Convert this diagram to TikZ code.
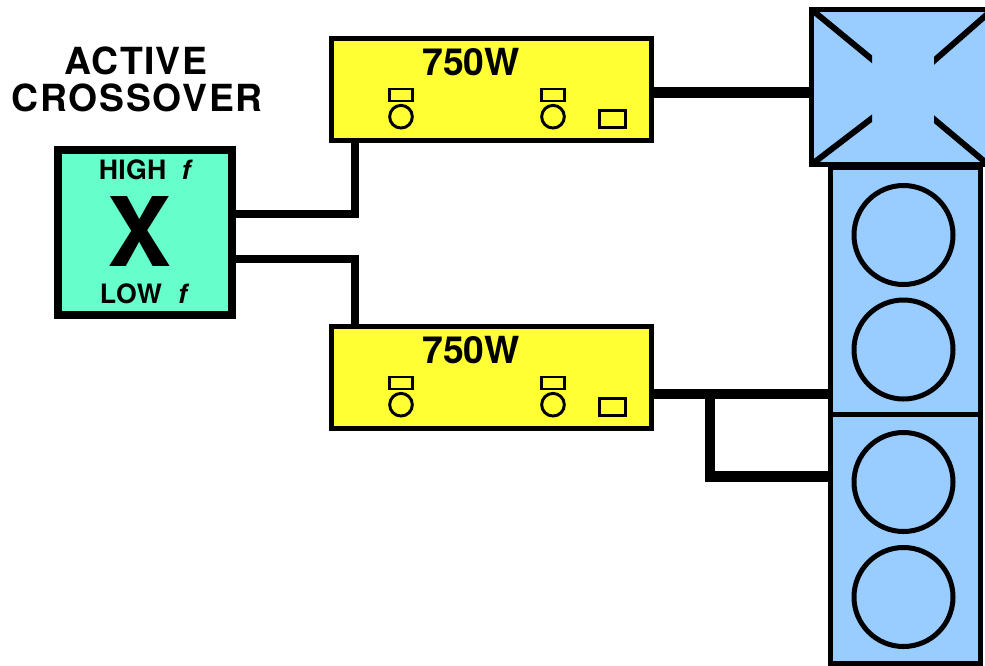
\documentclass[tikz,border=0pt]{standalone}
\usepackage{fontspec}
\setmainfont{TeX Gyre Heros}
\definecolor{xovergreen}{HTML}{66FFCC}
\definecolor{ampyellow}{HTML}{FFFF33}
\definecolor{cabblue}{HTML}{99CCFF}
\tikzset{
  box/.style={draw, inner sep=0pt, outer sep=0pt, line width=3.75pt},
  ampbox/.style={box, fill=ampyellow, minimum width=240pt, minimum height=76.5pt},
  cabbox/.style={box, fill=cabblue, minimum width=112.5pt},
  cone/.style={draw, circle, inner sep=0pt, line width=3.75pt, minimum size=74.25pt},
  knobcap/.style={draw, inner sep=0pt, line width=2.2pt, minimum width=17.8pt, minimum height=9pt},
  knobdial/.style={draw, circle, inner sep=0pt, line width=2.2pt, minimum size=17pt},
  hornline/.style={line width=4.5pt},
  wire/.style={line width=6pt},
  cable/.style={line width=7.9pt},
  label/.style={inner sep=0pt, font=\bfseries\fontsize{28}{28}\selectfont},
  smalllabel/.style={inner sep=0pt, font=\bfseries\fontsize{20}{20}\selectfont}
}
\begin{document}
\begin{tikzpicture}[x=0.75pt,y=-0.75pt]
    \useasboundingbox (0,0) rectangle (985,665);
    \node[label] (active) at (136,61) {\addfontfeature{LetterSpace=3.5}ACTIVE};
    \node[label] (crossover) at (137,98) {\addfontfeature{LetterSpace=4.8}CROSSOVER};
    \node[box, fill=xovergreen, line width=6pt, minimum width=130.5pt, minimum height=123.75pt] (xover) at (145,232.5) {};
    \node[smalllabel] (high) at (146,170) {\addfontfeature{LetterSpace=1}HIGH~~\textit{f}};
    \node[inner sep=0pt, font=\bfseries\fontsize{72}{72}\selectfont] (bigx) at (139.5,232) {X};
    \node[smalllabel] (low) at (145,294) {\addfontfeature{LetterSpace=2.5}LOW~~\textit{f}};
    \foreach \a/\y in {ampa/0, ampb/288} {
        \node[ampbox] (\a) at (491.5,89.5+\y) {};
        \node[label] (\a title) at (471,62+\y) {750W};
        \foreach \k/\x in {l/401, r/553} {
            \node[knobcap] (\a cap\k) at (\x,95+\y) {};
            \node[knobdial] (\a dial\k) at (\x,116.7+\y) {};
        }
        \node[knobcap, minimum width=19.5pt, minimum height=13pt] (\a meter) at (612.5,119.2+\y) {};
    }
    \node[cabbox, minimum height=185.25pt] (cabupper) at (905.5,291) {};
    \node[cabbox, minimum height=186.75pt] (cablower) at (905.5,539) {};
    \node[cabbox, minimum width=132.4pt, minimum height=116.25pt] (horn) at (899.75,87) {};
    \foreach \n/\y/\z in {a/235/482, b/349.5/597} {
        \node[cone] (cone\n) at (903.5,\y) {};
        \node[cone] (cone\n low) at (903.5,\z) {};
    }
    \begin{scope}
        \clip (805,0) rectangle (872,170) (934,0) rectangle (990,170);
        \draw[hornline] (horn.north west) -- ++(68,56);
        \draw[hornline] (horn.south west) -- ++(68,-52);
        \draw[hornline] ([yshift=-3pt]horn.north east) -- ++(-64,56);
        \draw[hornline] (horn.south east) -- ++(-62,-52);
    \end{scope}
    \draw[wire] ([yshift=14.1pt]xover.east) -| ([xshift=-102.75pt]ampa.south);
    \draw[wire] ([yshift=-19.9pt]xover.east) -| ([xshift=-102.75pt]ampb.north);
    \draw[cable] ([yshift=-2.25pt]ampa.east) -- ([yshift=-2.25pt]ampa.east -| horn.west);
    \draw[cable] ([yshift=-12.4pt]ampb.east) -- ([yshift=-12.4pt]ampb.east -| cabupper.west);
    \draw[cable] ([xshift=43.9pt,yshift=-12.4pt]ampb.east) |- (cablower.west |- 0,476.5);
\end{tikzpicture}
\end{document}
